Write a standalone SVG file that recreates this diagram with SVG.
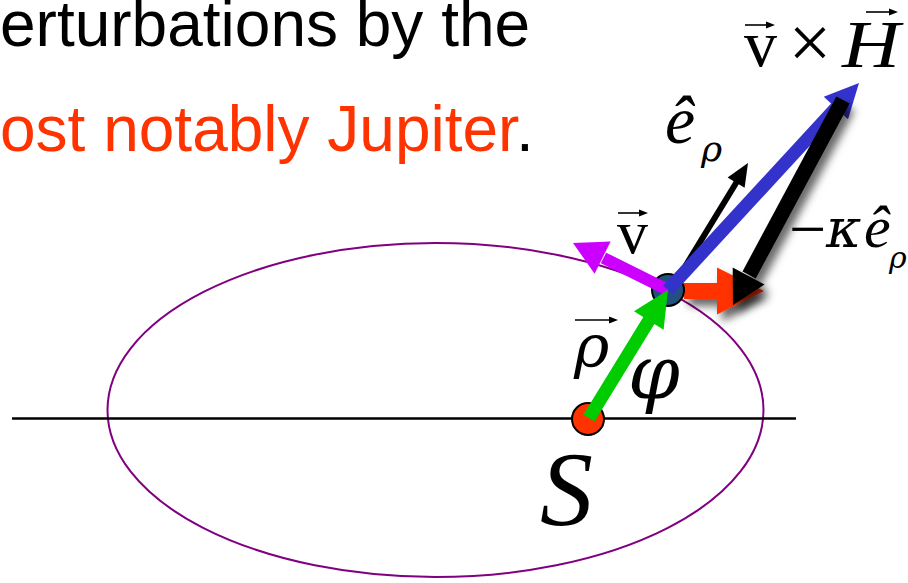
<svg xmlns="http://www.w3.org/2000/svg" width="908" height="583" viewBox="0 0 908 583">
<style>
.title{font-family:"Liberation Sans",Arial,sans-serif;font-size:64px}
.m{font-family:"Liberation Serif","Times New Roman",serif;fill:#000}
.g{font-family:"DejaVu Serif","Liberation Serif",serif;font-style:italic;fill:#000}
.it{font-style:italic}
.acc{stroke:#000;stroke-width:1.6;fill:none}
.acch{fill:#000}
</style>
<defs>
<filter id="sh" x="-30%" y="-30%" width="160%" height="160%">
<feDropShadow dx="5" dy="7" stdDeviation="4.5" flood-color="#000" flood-opacity="0.6"/>
</filter>
</defs>
<g id="title">
<text class="title" x="0" y="46" fill="#000">erturbations by the</text>
<text class="title" x="0" y="151" fill="#FF3300">ost notably Jupiter<tspan fill="#000">.</tspan></text>
</g>
<g id="orbit">
<ellipse cx="435.5" cy="410" rx="328" ry="167" fill="none" stroke="#800080" stroke-width="2"/>
</g>
<g id="axis">
<line x1="12" y1="418.5" x2="796" y2="418.5" stroke="#000" stroke-width="2.5"/>
</g>
<g id="sun">
<circle cx="588" cy="419" r="16" fill="#FF3300" stroke="#000" stroke-width="2"/>
</g>
<g id="connectors">
<g id="arrow-force" filter="url(#sh)">
<line x1="684" y1="291" x2="718" y2="291" stroke="#FF3300" stroke-width="16"/>
<polygon points="764,291 717,267.5 717,314.5" fill="#FF3300"/>
</g>
<g id="planet">
<circle cx="668" cy="290" r="16" fill="#22507f" stroke="#000" stroke-width="2"/>
</g>
<g id="arrow-erho">
<line x1="672" y1="288" x2="737" y2="181.5" stroke="#000" stroke-width="6"/>
<polygon points="748,163 744.6,187.8 727.6,177.4" fill="#000"/>
</g>
<g id="arrow-v">
<line x1="668" y1="290" x2="603.5" y2="258" stroke="#CC00FF" stroke-width="12"/>
<polygon points="573,243 610.6,241.5 594.6,273.7" fill="#CC00FF"/>
</g>
<g id="arrow-rho">
<line x1="589" y1="418" x2="649.5" y2="319.5" stroke="#00CC00" stroke-width="13"/>
<polygon points="668,290 663.6,329.8 634,311.2" fill="#00CC00"/>
</g>
<g id="arrow-vxH">
<line x1="668" y1="290" x2="836.6" y2="107.2" stroke="#3333CC" stroke-width="13"/>
<polygon points="859,83 848,119.2 823.8,96.8" fill="#3333CC"/>
</g>
<g id="arrow-kappa" filter="url(#sh)">
<line x1="843" y1="100" x2="749.1" y2="275" stroke="#000" stroke-width="15"/>
<polygon points="733,305 732.7,267.4 764.5,284.4" fill="#000"/>
</g>
</g>
<g id="label-vxH">
<text class="m" x="744" y="66" font-size="66">v</text>
<text class="m" x="810" y="68" font-size="76" text-anchor="middle">×</text>
<text class="m it" x="842" y="67" font-size="68" textLength="58" lengthAdjust="spacingAndGlyphs">H</text>
<line class="acc" x1="745" y1="25" x2="770" y2="25"/>
<polygon class="acch" points="775,25 766,21.5 766,28.5"/>
<line class="acc" x1="866" y1="12" x2="893" y2="12"/>
<polygon class="acch" points="898,12 889,8.5 889,15.5"/>
</g>
<g id="label-erho">
<text class="m it" x="665" y="143" font-size="68">ê</text>
<text class="g" x="701" y="161" font-size="36">ρ</text>
</g>
<g id="label-v">
<text class="m" x="617" y="253" font-size="62">v</text>
<line class="acc" x1="618" y1="213" x2="643" y2="213"/>
<polygon class="acch" points="648,213 639,209.5 639,216.5"/>
</g>
<g id="label-kappa">
<text class="m" x="789" y="251" font-size="66">−</text>
<text class="g" x="826" y="247" font-size="54">κ</text>
<text class="m it" x="864" y="247" font-size="60">ê</text>
<text class="g" x="889" y="268" font-size="30">ρ</text>
</g>
<g id="label-rho">
<text class="g" x="574" y="367" font-size="60">ρ</text>
<line class="acc" x1="575" y1="320" x2="613" y2="320"/>
<polygon class="acch" points="618,320 609,316.5 609,323.5"/>
</g>
<g id="label-phi">
<text class="g" x="628" y="398" font-size="74">φ</text>
</g>
<g id="label-S">
<text class="m it" x="540" y="525" font-size="106">S</text>
</g>
</svg>
